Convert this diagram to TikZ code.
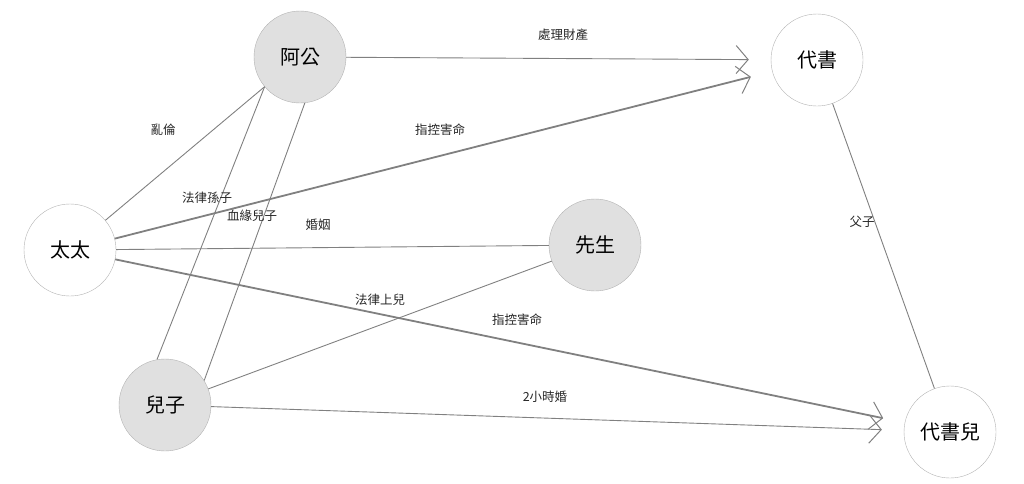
\documentclass[tikz,border=0pt]{standalone}
\usepackage{fontspec}
\newfontfamily\cjk{Noto Sans CJK TC}
\usetikzlibrary{arrows.meta}
\tikzset{
  person/.style={draw=black!30, shape=circle, minimum size=92pt, inner sep=0pt, font=\cjk\fontsize{20}{20}\selectfont},
  kin/.style={person, fill=black!12},
  rel/.style={draw=black!50, line width=0.9pt},
  accuse/.style={rel, line width=1.8pt},
  tip/.style={-{Straight Barb[length=12pt,width=28pt,line width=1pt]}, shorten >=22pt},
  lbl/.style={font=\cjk\fontsize{12.5}{12.5}\selectfont, text=black!85}
}
\begin{document}
\begin{tikzpicture}[x=1pt,y=-1pt]
	\useasboundingbox (0,0) rectangle (1024,483);
	\node [kin] (grandpa) at (300, 57) {阿公};
	\node [person] (scribe) at (817, 60) {代書};
	\node [person] (wife) at (70, 250) {太太};
	\node [kin] (husband) at (595, 245) {先生};
	\node [kin] (son) at (165, 405) {兒子};
	\node [person] (scribeson) at (950, 432) {代書兒};

	\draw [rel, tip] (grandpa) to (scribe);
	\draw [accuse, tip] (wife) to (scribe);
	\draw [rel] (wife) to (grandpa);
	\draw [rel] (son.100) to (grandpa.220);
	\draw [rel] (son.32) to (grandpa.276);
	\draw [rel] (wife) to (husband);
	\draw [rel] (son) to (husband);
	\draw [accuse, tip] (wife) to (scribeson);
	\draw [rel, tip] (son) to (scribeson);
	\draw [rel] (scribe) to (scribeson);

	\node [lbl] (l1) at (563, 35) {處理財產};
	\node [lbl] (l2) at (440, 130) {指控害命};
	\node [lbl] (l3) at (163, 130) {亂倫};
	\node [lbl] (l4) at (207, 198) {法律孫子};
	\node [lbl] (l5) at (252, 216) {血緣兒子};
	\node [lbl] (l6) at (318, 225) {婚姻};
	\node [lbl] (l7) at (380, 300) {法律上兒};
	\node [lbl] (l8) at (517, 320) {指控害命};
	\node [lbl] (l9) at (545, 397) {2小時婚};
	\node [lbl] (l10) at (862, 222) {父子};
\end{tikzpicture}
\end{document}
